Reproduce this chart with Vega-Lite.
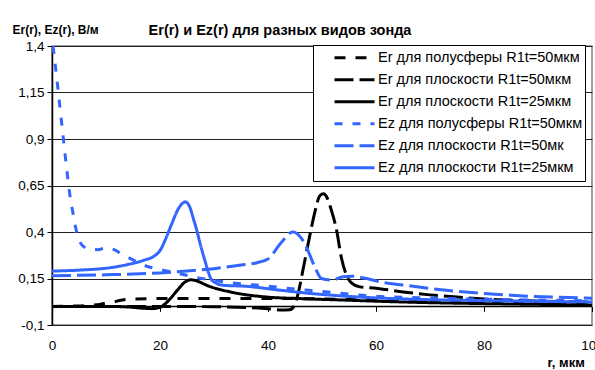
{
  "$schema": "https://vega.github.io/schema/vega-lite/v6.json",
  "width": 540,
  "height": 279,
  "padding": {"left": 52, "top": 46, "right": 3, "bottom": 45},
  "autosize": {"type": "none"},
  "background": "white",
  "title": {
    "text": "Er(r) и Ez(r) для разных видов зонда",
    "font": "Liberation Sans",
    "fontSize": 14.5,
    "fontWeight": "bold",
    "color": "black",
    "anchor": "middle",
    "baseline": "alphabetic",
    "dx": -42,
    "dy": 14,
    "offset": -12
  },
  "config": {
    "view": {"stroke": "#808080", "strokeWidth": 1.5},
    "font": "Liberation Sans"
  },
  "resolve": {"axis": {"x": "independent"}},
  "layer": [
    {
      "data": {"values": [
        {"s": "Er для полусферы R1t=50мкм", "r": 0, "v": 0.0},
        {"s": "Er для полусферы R1t=50мкм", "r": 4, "v": 0.002},
        {"s": "Er для полусферы R1t=50мкм", "r": 7, "v": 0.006},
        {"s": "Er для полусферы R1t=50мкм", "r": 9, "v": 0.012},
        {"s": "Er для полусферы R1t=50мкм", "r": 11, "v": 0.022},
        {"s": "Er для полусферы R1t=50мкм", "r": 13, "v": 0.034},
        {"s": "Er для полусферы R1t=50мкм", "r": 15, "v": 0.04},
        {"s": "Er для полусферы R1t=50мкм", "r": 20, "v": 0.042},
        {"s": "Er для полусферы R1t=50мкм", "r": 25, "v": 0.043},
        {"s": "Er для полусферы R1t=50мкм", "r": 30, "v": 0.043},
        {"s": "Er для полусферы R1t=50мкм", "r": 35, "v": 0.043},
        {"s": "Er для полусферы R1t=50мкм", "r": 40, "v": 0.042},
        {"s": "Er для полусферы R1t=50мкм", "r": 45, "v": 0.042},
        {"s": "Er для полусферы R1t=50мкм", "r": 50, "v": 0.04},
        {"s": "Er для полусферы R1t=50мкм", "r": 55, "v": 0.037},
        {"s": "Er для полусферы R1t=50мкм", "r": 60, "v": 0.033},
        {"s": "Er для полусферы R1t=50мкм", "r": 70, "v": 0.027},
        {"s": "Er для полусферы R1t=50мкм", "r": 80, "v": 0.021},
        {"s": "Er для полусферы R1t=50мкм", "r": 90, "v": 0.016},
        {"s": "Er для полусферы R1t=50мкм", "r": 100, "v": 0.012},

        {"s": "Er для плоскости R1t=50мкм", "r": 0, "v": 0.0},
        {"s": "Er для плоскости R1t=50мкм", "r": 10, "v": 0.0},
        {"s": "Er для плоскости R1t=50мкм", "r": 20, "v": 0.0},
        {"s": "Er для плоскости R1t=50мкм", "r": 30, "v": -0.002},
        {"s": "Er для плоскости R1t=50мкм", "r": 36, "v": -0.006},
        {"s": "Er для плоскости R1t=50мкм", "r": 40, "v": -0.012},
        {"s": "Er для плоскости R1t=50мкм", "r": 42.5, "v": -0.02},
        {"s": "Er для плоскости R1t=50мкм", "r": 44, "v": -0.018},
        {"s": "Er для плоскости R1t=50мкм", "r": 44.8, "v": 0.0},
        {"s": "Er для плоскости R1t=50мкм", "r": 45.5, "v": 0.06},
        {"s": "Er для плоскости R1t=50мкм", "r": 46.5, "v": 0.2},
        {"s": "Er для плоскости R1t=50мкм", "r": 47.8, "v": 0.39},
        {"s": "Er для плоскости R1t=50мкм", "r": 48.7, "v": 0.51},
        {"s": "Er для плоскости R1t=50мкм", "r": 49.6, "v": 0.595},
        {"s": "Er для плоскости R1t=50мкм", "r": 50.3, "v": 0.605},
        {"s": "Er для плоскости R1t=50мкм", "r": 51, "v": 0.58},
        {"s": "Er для плоскости R1t=50мкм", "r": 51.7, "v": 0.52},
        {"s": "Er для плоскости R1t=50мкм", "r": 52.7, "v": 0.41},
        {"s": "Er для плоскости R1t=50мкм", "r": 53.6, "v": 0.26},
        {"s": "Er для плоскости R1t=50мкм", "r": 54.5, "v": 0.17},
        {"s": "Er для плоскости R1t=50мкм", "r": 55.5, "v": 0.125},
        {"s": "Er для плоскости R1t=50мкм", "r": 57, "v": 0.105},
        {"s": "Er для плоскости R1t=50мкм", "r": 59, "v": 0.1},
        {"s": "Er для плоскости R1t=50мкм", "r": 61, "v": 0.094},
        {"s": "Er для плоскости R1t=50мкм", "r": 65, "v": 0.078},
        {"s": "Er для плоскости R1t=50мкм", "r": 70, "v": 0.062},
        {"s": "Er для плоскости R1t=50мкм", "r": 75, "v": 0.05},
        {"s": "Er для плоскости R1t=50мкм", "r": 80, "v": 0.04},
        {"s": "Er для плоскости R1t=50мкм", "r": 85, "v": 0.033},
        {"s": "Er для плоскости R1t=50мкм", "r": 90, "v": 0.029},
        {"s": "Er для плоскости R1t=50мкм", "r": 95, "v": 0.026},
        {"s": "Er для плоскости R1t=50мкм", "r": 100, "v": 0.024},

        {"s": "Er для плоскости R1t=25мкм", "r": 0, "v": 0.0},
        {"s": "Er для плоскости R1t=25мкм", "r": 5, "v": 0.0},
        {"s": "Er для плоскости R1t=25мкм", "r": 10, "v": 0.0},
        {"s": "Er для плоскости R1t=25мкм", "r": 14, "v": -0.003},
        {"s": "Er для плоскости R1t=25мкм", "r": 17, "v": -0.01},
        {"s": "Er для плоскости R1t=25мкм", "r": 18.5, "v": -0.012},
        {"s": "Er для плоскости R1t=25мкм", "r": 20, "v": -0.005},
        {"s": "Er для плоскости R1t=25мкм", "r": 21, "v": 0.015},
        {"s": "Er для плоскости R1t=25мкм", "r": 22, "v": 0.045},
        {"s": "Er для плоскости R1t=25мкм", "r": 23.3, "v": 0.09},
        {"s": "Er для плоскости R1t=25мкм", "r": 24.5, "v": 0.128},
        {"s": "Er для плоскости R1t=25мкм", "r": 25.7, "v": 0.143},
        {"s": "Er для плоскости R1t=25мкм", "r": 27, "v": 0.135},
        {"s": "Er для плоскости R1t=25мкм", "r": 28.6, "v": 0.114},
        {"s": "Er для плоскости R1t=25мкм", "r": 33, "v": 0.078},
        {"s": "Er для плоскости R1t=25мкм", "r": 39.5, "v": 0.051},
        {"s": "Er для плоскости R1t=25мкм", "r": 46, "v": 0.042},
        {"s": "Er для плоскости R1t=25мкм", "r": 55, "v": 0.033},
        {"s": "Er для плоскости R1t=25мкм", "r": 60, "v": 0.028},
        {"s": "Er для плоскости R1t=25мкм", "r": 70, "v": 0.02},
        {"s": "Er для плоскости R1t=25мкм", "r": 80, "v": 0.015},
        {"s": "Er для плоскости R1t=25мкм", "r": 90, "v": 0.011},
        {"s": "Er для плоскости R1t=25мкм", "r": 100, "v": 0.008},

        {"s": "Ez для полусферы R1t=50мкм", "r": 0.2, "v": 1.4},
        {"s": "Ez для полусферы R1t=50мкм", "r": 1.1, "v": 1.17},
        {"s": "Ez для полусферы R1t=50мкм", "r": 2.0, "v": 0.93},
        {"s": "Ez для полусферы R1t=50мкм", "r": 3.0, "v": 0.67},
        {"s": "Ez для полусферы R1t=50мкм", "r": 3.4, "v": 0.58},
        {"s": "Ez для полусферы R1t=50мкм", "r": 3.9, "v": 0.5},
        {"s": "Ez для полусферы R1t=50мкм", "r": 4.4, "v": 0.42},
        {"s": "Ez для полусферы R1t=50мкм", "r": 5, "v": 0.36},
        {"s": "Ez для полусферы R1t=50мкм", "r": 5.7, "v": 0.325},
        {"s": "Ez для полусферы R1t=50мкм", "r": 7, "v": 0.308},
        {"s": "Ez для полусферы R1t=50мкм", "r": 8.5, "v": 0.305},
        {"s": "Ez для полусферы R1t=50мкм", "r": 10, "v": 0.315},
        {"s": "Ez для полусферы R1t=50мкм", "r": 11.5, "v": 0.305},
        {"s": "Ez для полусферы R1t=50мкм", "r": 13, "v": 0.28},
        {"s": "Ez для полусферы R1t=50мкм", "r": 15, "v": 0.25},
        {"s": "Ez для полусферы R1t=50мкм", "r": 17, "v": 0.222},
        {"s": "Ez для полусферы R1t=50мкм", "r": 20, "v": 0.198},
        {"s": "Ez для полусферы R1t=50мкм", "r": 23, "v": 0.18},
        {"s": "Ez для полусферы R1t=50мкм", "r": 26, "v": 0.16},
        {"s": "Ez для полусферы R1t=50мкм", "r": 30, "v": 0.14},
        {"s": "Ez для полусферы R1t=50мкм", "r": 34, "v": 0.124},
        {"s": "Ez для полусферы R1t=50мкм", "r": 39, "v": 0.112},
        {"s": "Ez для полусферы R1t=50мкм", "r": 44, "v": 0.096},
        {"s": "Ez для полусферы R1t=50мкм", "r": 50, "v": 0.08},
        {"s": "Ez для полусферы R1t=50мкм", "r": 55, "v": 0.066},
        {"s": "Ez для полусферы R1t=50мкм", "r": 60, "v": 0.055},
        {"s": "Ez для полусферы R1t=50мкм", "r": 70, "v": 0.045},
        {"s": "Ez для полусферы R1t=50мкм", "r": 80, "v": 0.039},
        {"s": "Ez для полусферы R1t=50мкм", "r": 90, "v": 0.034},
        {"s": "Ez для полусферы R1t=50мкм", "r": 100, "v": 0.03},

        {"s": "Ez для плоскости R1t=50мк", "r": 0, "v": 0.165},
        {"s": "Ez для плоскости R1t=50мк", "r": 10, "v": 0.17},
        {"s": "Ez для плоскости R1t=50мк", "r": 20, "v": 0.18},
        {"s": "Ez для плоскости R1t=50мк", "r": 25, "v": 0.19},
        {"s": "Ez для плоскости R1t=50мк", "r": 30, "v": 0.203},
        {"s": "Ez для плоскости R1t=50мк", "r": 35, "v": 0.222},
        {"s": "Ez для плоскости R1t=50мк", "r": 38, "v": 0.235},
        {"s": "Ez для плоскости R1t=50мк", "r": 40, "v": 0.255},
        {"s": "Ez для плоскости R1t=50мк", "r": 42.5, "v": 0.345},
        {"s": "Ez для плоскости R1t=50мк", "r": 44.6, "v": 0.4},
        {"s": "Ez для плоскости R1t=50мк", "r": 46.2, "v": 0.366},
        {"s": "Ez для плоскости R1t=50мк", "r": 47.4, "v": 0.3},
        {"s": "Ez для плоскости R1t=50мк", "r": 48.7, "v": 0.21},
        {"s": "Ez для плоскости R1t=50мк", "r": 49.9, "v": 0.15},
        {"s": "Ez для плоскости R1t=50мк", "r": 51.8, "v": 0.141},
        {"s": "Ez для плоскости R1t=50мк", "r": 53.9, "v": 0.159},
        {"s": "Ez для плоскости R1t=50мк", "r": 55.5, "v": 0.162},
        {"s": "Ez для плоскости R1t=50мк", "r": 58.3, "v": 0.15},
        {"s": "Ez для плоскости R1t=50мк", "r": 60.7, "v": 0.132},
        {"s": "Ez для плоскости R1t=50мк", "r": 65, "v": 0.115},
        {"s": "Ez для плоскости R1t=50мк", "r": 73, "v": 0.087},
        {"s": "Ez для плоскости R1t=50мк", "r": 85, "v": 0.06},
        {"s": "Ez для плоскости R1t=50мк", "r": 100, "v": 0.044},

        {"s": "Ez для плоскости R1t=25мкм", "r": 0, "v": 0.19},
        {"s": "Ez для плоскости R1t=25мкм", "r": 5, "v": 0.195},
        {"s": "Ez для плоскости R1t=25мкм", "r": 11, "v": 0.209},
        {"s": "Ez для плоскости R1t=25мкм", "r": 14, "v": 0.225},
        {"s": "Ez для плоскости R1t=25мкм", "r": 17, "v": 0.248},
        {"s": "Ez для плоскости R1t=25мкм", "r": 19, "v": 0.272},
        {"s": "Ez для плоскости R1t=25мкм", "r": 20, "v": 0.3},
        {"s": "Ez для плоскости R1t=25мкм", "r": 21, "v": 0.36},
        {"s": "Ez для плоскости R1t=25мкм", "r": 22.2, "v": 0.446},
        {"s": "Ez для плоскости R1t=25мкм", "r": 23.3, "v": 0.52},
        {"s": "Ez для плоскости R1t=25мкм", "r": 24.2, "v": 0.555},
        {"s": "Ez для плоскости R1t=25мкм", "r": 24.7, "v": 0.562},
        {"s": "Ez для плоскости R1t=25мкм", "r": 25.5, "v": 0.535},
        {"s": "Ez для плоскости R1t=25мкм", "r": 26.2, "v": 0.47},
        {"s": "Ez для плоскости R1t=25мкм", "r": 26.8, "v": 0.41},
        {"s": "Ez для плоскости R1t=25мкм", "r": 27.5, "v": 0.33},
        {"s": "Ez для плоскости R1t=25мкм", "r": 28.3, "v": 0.248},
        {"s": "Ez для плоскости R1t=25мкм", "r": 29, "v": 0.18},
        {"s": "Ez для плоскости R1t=25мкм", "r": 29.6, "v": 0.141},
        {"s": "Ez для плоскости R1t=25мкм", "r": 31.6, "v": 0.114},
        {"s": "Ez для плоскости R1t=25мкм", "r": 36, "v": 0.108},
        {"s": "Ez для плоскости R1t=25мкм", "r": 42, "v": 0.088},
        {"s": "Ez для плоскости R1t=25мкм", "r": 47, "v": 0.072},
        {"s": "Ez для плоскости R1t=25мкм", "r": 51, "v": 0.062},
        {"s": "Ez для плоскости R1t=25мкм", "r": 59, "v": 0.047},
        {"s": "Ez для плоскости R1t=25мкм", "r": 65, "v": 0.04},
        {"s": "Ez для плоскости R1t=25мкм", "r": 70, "v": 0.036},
        {"s": "Ez для плоскости R1t=25мкм", "r": 80, "v": 0.031},
        {"s": "Ez для плоскости R1t=25мкм", "r": 90, "v": 0.027},
        {"s": "Ez для плоскости R1t=25мкм", "r": 100, "v": 0.024}
      ]},
      "mark": {"type": "line", "interpolate": "monotone", "strokeWidth": 3, "clip": true},
      "encoding": {
        "x": {
          "field": "r", "type": "quantitative",
          "scale": {"domain": [0, 100], "nice": false, "zero": false},
          "axis": {
            "orient": "bottom",
            "values": [0, 20, 40, 60, 80, 100],
            "ticks": false, "domain": false, "grid": false,
            "labelPadding": 13, "labelFontSize": 13.5, "labelColor": "black",
            "labelFont": "Liberation Sans", "labelFlush": false, "labelOverlap": false,
            "title": "r, мкм", "titleFont": "Liberation Sans", "titleFontSize": 13,
            "titleFontWeight": "bold", "titleColor": "black",
            "titleAlign": "left", "titleBaseline": "alphabetic",
            "titleX": 495, "titleY": 41, "titleAngle": 0
          }
        },
        "y": {
          "field": "v", "type": "quantitative",
          "scale": {"domain": [-0.1, 1.4], "nice": false, "zero": false},
          "axis": {
            "values": [-0.1, 0.15, 0.4, 0.65, 0.9, 1.15, 1.4],
            "labelExpr": "replace(toString(datum.value), '.', ',')",
            "grid": true, "gridColor": "#222", "gridWidth": 1,
            "domainColor": "black", "domainWidth": 1.5,
            "tickColor": "black", "tickSize": 5, "tickWidth": 1,
            "labelPadding": 3, "labelFontSize": 13.5, "labelColor": "black",
            "labelFont": "Liberation Sans", "labelFlush": false, "labelOverlap": false,
            "title": "Er(r), Ez(r), В/м", "titleFont": "Liberation Sans", "titleFontSize": 12,
            "titleFontWeight": "bold", "titleColor": "black",
            "titleAngle": 0, "titleAlign": "left", "titleBaseline": "alphabetic",
            "titleX": -40, "titleY": -13
          }
        },
        "color": {
          "field": "s", "type": "nominal",
          "scale": {
            "domain": ["Er для полусферы R1t=50мкм", "Er для плоскости R1t=50мкм", "Er для плоскости R1t=25мкм", "Ez для полусферы R1t=50мкм", "Ez для плоскости R1t=50мк", "Ez для плоскости R1t=25мкм"],
            "range": ["black", "black", "black", "#3366FF", "#3366FF", "#3366FF"]
          },
          "legend": {
            "orient": "none", "legendX": 261, "legendY": -1,
            "title": null, "fillColor": "white", "strokeColor": "black",
            "padding": 2, "symbolType": "stroke", "symbolSize": 1600,
            "symbolStrokeWidth": 3, "symbolOffset": 18, "labelOffset": 2,
            "clipHeight": 21.5, "rowPadding": 0,
            "labelFont": "Liberation Sans", "labelFontSize": 14.5, "labelColor": "black",
            "labelLimit": 400
          }
        },
        "strokeDash": {
          "field": "s", "type": "nominal",
          "scale": {
            "domain": ["Er для полусферы R1t=50мкм", "Er для плоскости R1t=50мкм", "Er для плоскости R1t=25мкм", "Ez для полусферы R1t=50мкм", "Ez для плоскости R1t=50мк", "Ez для плоскости R1t=25мкм"],
            "range": [[11, 10], [19, 6], [1, 0], [8, 10], [19, 6], [1, 0]]
          }
        }
      }
    },
    {
      "data": {"values": [{"r0": 0, "r1": 100, "v": 0}]},
      "mark": {"type": "rule", "color": "black", "strokeWidth": 1.5},
      "encoding": {
        "x": {
          "field": "r0", "type": "quantitative",
          "axis": {
            "orient": "bottom", "offset": -18.6,
            "values": [0, 20, 40, 60, 80, 100],
            "labels": false, "domain": false, "grid": false,
            "ticks": true, "tickSize": 5, "tickColor": "black", "tickWidth": 1,
            "title": null
          }
        },
        "x2": {"field": "r1"},
        "y": {"field": "v", "type": "quantitative"}
      }
    }
  ]
}
